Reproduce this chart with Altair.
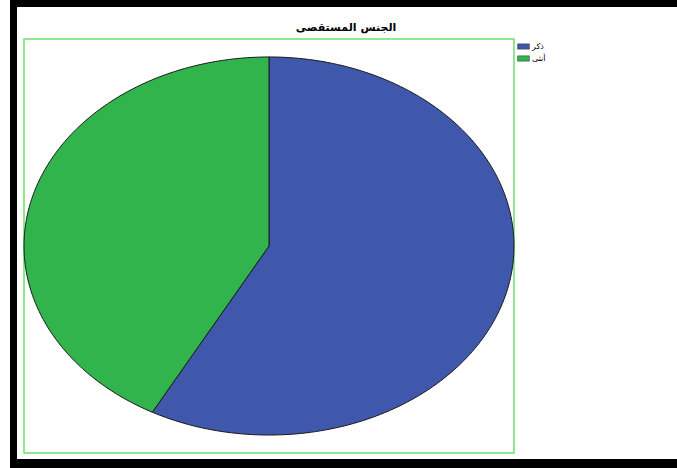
import altair as alt
import pandas as pd

categories = ["ذكر", "أنثى"]
values = [57.9, 42.1]
colors = ["#3F58AB", "#31B44B"]
title_text = "الجنس المستقصى"

df = pd.DataFrame({"gender": categories, "value": values, "order": list(range(len(categories)))})

N = 180
pie = (
    alt.Chart(df)
    .transform_joinaggregate(total="sum(value)")
    .transform_window(cum="sum(value)", sort=[alt.SortField("order")], frame=[None, 0])
    .transform_calculate(
        a0="2*PI*(datum.cum-datum.value)/datum.total",
        a1="2*PI*datum.cum/datum.total",
        t=f"sequence(-1, {N + 2})",
    )
    .transform_flatten(["t"])
    .transform_calculate(
        ang=f"datum.a0 + (datum.a1-datum.a0)*clamp(datum.t,0,{N})/{N}",
    )
    .transform_calculate(
        px=f"(datum.t<0 || datum.t>{N}) ? 0 : sin(datum.ang)",
        py=f"(datum.t<0 || datum.t>{N}) ? 0 : cos(datum.ang)",
    )
    .mark_line(stroke="#1a1a1a", strokeWidth=1, strokeJoin="round")
    .encode(
        x=alt.X("px:Q", scale=alt.Scale(domain=[-1, 1], nice=False, zero=False), axis=None),
        y=alt.Y("py:Q", scale=alt.Scale(domain=[-1.095, 1.095], nice=False, zero=False), axis=None),
        fill=alt.Fill(
            "gender:N",
            scale=alt.Scale(domain=categories, range=colors),
            legend=alt.Legend(
                title=None,
                orient="none",
                legendX=493,
                legendY=1,
                symbolType="M-1,-0.45H1V0.45H-1Z",
                symbolSize=140,
                symbolStrokeColor="#333",
                symbolStrokeWidth=0.5,
                labelFont="DejaVu Sans",
                labelFontSize=8,
                labelColor="#000",
                labelOffset=2,
                rowPadding=1,
            ),
        ),
        detail="gender:N",
        order=alt.Order("t:Q"),
    )
)

one = alt.Data(values=[{"a": 1}])
title_mark = alt.Chart(one).mark_text(
    text=title_text,
    font="DejaVu Sans",
    fontSize=11,
    fontWeight="bold",
    color="#000",
    align="center",
    baseline="middle",
).encode(x=alt.value(322), y=alt.value(-11))

left_band = alt.Chart(one).mark_rect(color="black").encode(
    x=alt.value(-14), x2=alt.value(-7), y=alt.value(-39), y2=alt.value(429)
)
top_band = alt.Chart(one).mark_rect(color="black").encode(
    x=alt.value(-14), x2=alt.value(653), y=alt.value(-39), y2=alt.value(-32)
)
bottom_band = alt.Chart(one).mark_rect(color="black").encode(
    x=alt.value(-14), x2=alt.value(653), y=alt.value(420), y2=alt.value(429)
)

chart = (
    alt.layer(pie, title_mark, left_band, top_band, bottom_band)
    .properties(
        width=490,
        height=414,
        padding={"left": 24, "top": 39, "right": 163, "bottom": 15},
        autosize="none",
        background="white",
    )
    .configure_view(stroke="#6EE06E", strokeWidth=1.5)
)

chart.save("out.html", embed_options={"renderer": "svg", "actions": False})
